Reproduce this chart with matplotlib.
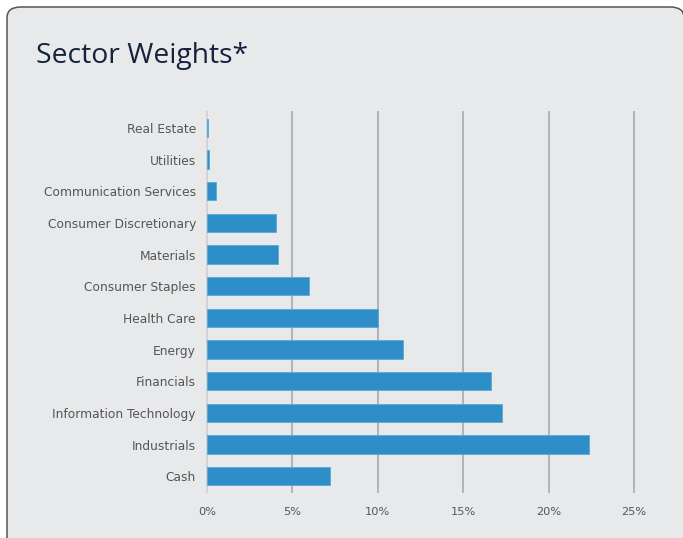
import matplotlib.pyplot as plt
from matplotlib.patches import FancyBboxPatch

# Sector weights in percent, listed top to bottom as shown
sectors = ['Real Estate', 'Utilities', 'Communication Services',
           'Consumer Discretionary', 'Materials', 'Consumer Staples',
           'Health Care', 'Energy', 'Financials', 'Information Technology',
           'Industrials', 'Cash']
weights = [0.05, 0.1, 0.53, 4.04, 4.14, 5.95, 10.0, 11.48, 16.6, 17.25,
           22.37, 7.18]
xticks = [0, 5, 10, 15, 20, 25]
xlabels = ['0%', '5%', '10%', '15%', '20%', '25%']

W, H = 683, 538
fig = plt.figure(figsize=(W/100, H/100), dpi=100)
fig.patch.set_facecolor('white')

# Rounded panel behind the chart
panel = FancyBboxPatch((7/W, -0.2), (684-7)/W, (H-7)/H + 0.2,
                       boxstyle='round,pad=0,rounding_size=0.02',
                       transform=fig.transFigure, facecolor='#e8e9eb',
                       edgecolor='#555555', linewidth=1.1, zorder=-5)
fig.patches.append(panel)

fig.text(36/W, 1 - 63/H, 'Sector Weights*', fontsize=20.3, color='#13233d',
         family='Open Sans', ha='left', va='baseline')

ax = fig.add_axes([207/W, 1 - 492/H, 427/W, 380/H])
ax.set_facecolor('none')
ypos = list(range(len(sectors)))
ax.barh(ypos, weights, height=0.57, color='#2e8fc8', edgecolor='#5aa9da',
        linewidth=0.6, zorder=3)
ax.set_ylim(len(sectors) - 0.5, -0.5)
ax.set_xlim(0, 25)

ax.set_xticks(xticks)
ax.set_xticklabels(xlabels)
ax.set_yticks(ypos)
ax.set_yticklabels(sectors)
for lab in ax.get_yticklabels():
    lab.set_family('DejaVu Sans')
    lab.set_fontsize(8.8)
    lab.set_color('#555555')
for lab in ax.get_xticklabels():
    lab.set_family('DejaVu Sans')
    lab.set_fontsize(8.2)
    lab.set_color('#555555')
ax.tick_params(axis='both', length=0)
ax.tick_params(axis='x', pad=11)
ax.tick_params(axis='y', pad=8)

for x in xticks[1:]:
    ax.axvline(x, color='#b3b3b3', linewidth=1.4, zorder=1, clip_on=False)
for s in ['top', 'right', 'bottom']:
    ax.spines[s].set_visible(False)
ax.spines['left'].set_color('#d3d3d3')
ax.spines['left'].set_linewidth(1.4)

fig.savefig('out.png', dpi=100)
